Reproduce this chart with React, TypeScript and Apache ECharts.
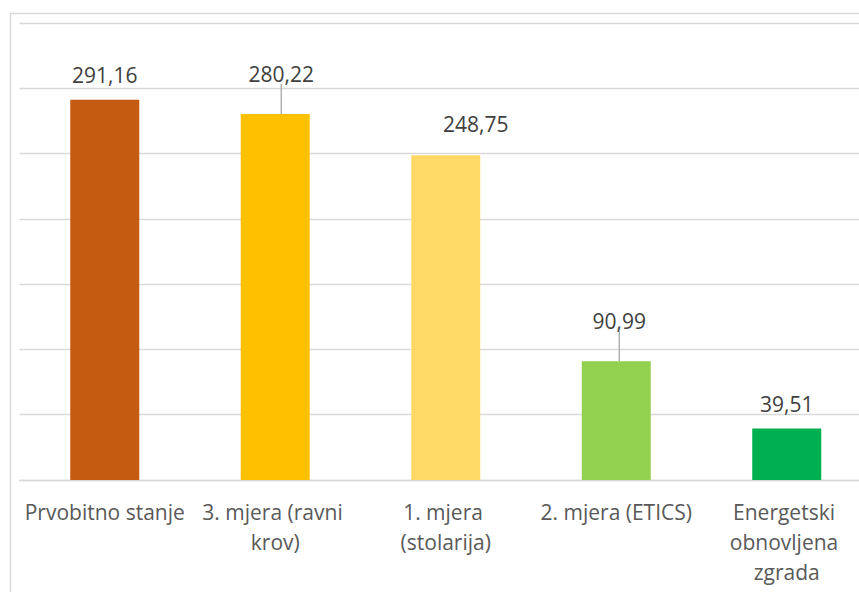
import React, { useEffect, useRef } from "react";
import * as echarts from "echarts";

const categories = [
  "Prvobitno stanje",
  "3. mjera (ravni krov)",
  "1. mjera (stolarija)",
  "2. mjera (ETICS)",
  "Energetski obnovljena zgrada",
];
const values = [291.16, 280.22, 248.75, 90.99, 39.51];
const barColors = ["#C55A11", "#FFC000", "#FFD966", "#92D050", "#00B050"];
const labelShifts = [
  [0, 0],
  [6, -16],
  [30, -7],
  [3, -16],
  [0, 0],
];
const leaderShown = [false, true, false, true, false];

const fmt = (v: number) => v.toFixed(2).replace(".", ",");

export default function App() {
  const ref = useRef<HTMLDivElement>(null);
  useEffect(() => {
    if (!ref.current) return;
    const chart = echarts.init(ref.current, undefined, { renderer: "svg" });
    chart.setOption({
      animation: false,
      backgroundColor: "#ffffff",
      textStyle: { fontFamily: "Open Sans" },
      graphic: [
        {
          type: "rect",
          z: -10,
          shape: { x: 10.5, y: 13.5, width: 900, height: 700 },
          style: { fill: "none", stroke: "#d9d9d9", lineWidth: 1.3 },
        },
      ],
      grid: {
        left: 19.5,
        top: 23,
        width: 852.5,
        height: 457,
        containLabel: false,
        outerBoundsMode: "none",
      },
      xAxis: {
        type: "category",
        data: categories,
        axisLine: { lineStyle: { color: "#d9d9d9", width: 1.3 } },
        axisTick: { show: false },
        axisLabel: {
          interval: 0,
          color: "#595959",
          fontSize: 21,
          lineHeight: 30,
          margin: 17,
          width: 166,
          overflow: "break",
          fontFamily: "Open Sans",
        },
      },
      yAxis: {
        type: "value",
        min: 0,
        max: 350,
        interval: 50,
        axisLabel: { show: false },
        axisLine: { show: false },
        axisTick: { show: false },
        splitLine: { lineStyle: { color: "#d9d9d9", width: 1.3 } },
      },
      series: [
        {
          type: "bar",
          barWidth: 69,
          data: values.map((v, i) => ({
            value: v,
            itemStyle: { color: barColors[i] },
            labelLine: { show: leaderShown[i] },
          })),
          label: {
            show: true,
            position: "top",
            distance: 14,
            color: "#404040",
            fontSize: 21,
            fontFamily: "Open Sans",
            formatter: (p: any) => fmt(p.value),
          },
          labelLine: { show: false, lineStyle: { color: "#a6a6a6", width: 1.3 } },
          labelLayout: (p: any) => ({
            dx: labelShifts[p.dataIndex][0],
            dy: labelShifts[p.dataIndex][1],
          }),
        },
      ],
    });
    return () => chart.dispose();
  }, []);
  return (
    <div
      ref={ref}
      style={{ position: "absolute", left: 0, top: 0, width: 859, height: 592 }}
    />
  );
}
